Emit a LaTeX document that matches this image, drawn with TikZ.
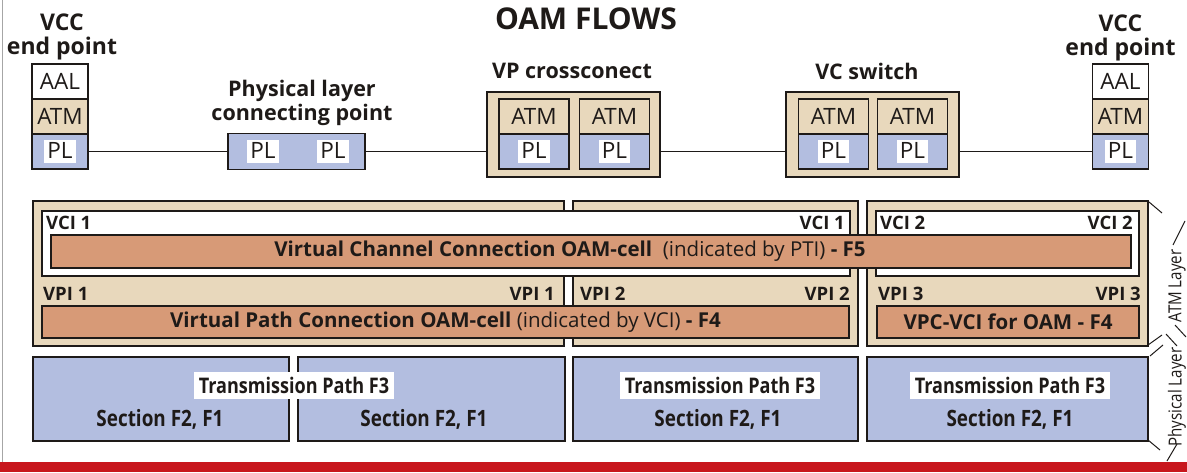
\documentclass[tikz,border=0pt]{standalone}
\usepackage{fontspec}
\setmainfont{Open Sans}
\newfontfamily\condfont[FakeStretch=0.84]{Open Sans}
\usepackage{tikz}
\definecolor{tan}{HTML}{E8D8BC}
\definecolor{plblue}{HTML}{B3BEE0}
\definecolor{cellbar}{HTML}{D79A77}
\definecolor{ink}{HTML}{1E1A18}
\definecolor{band}{HTML}{C8161D}
\newcommand{\fs}[2]{\fontsize{#1}{#2}\selectfont}

\begin{document}
\begin{tikzpicture}[x=1pt, y=-1pt,
    ln/.style={line width=1.9pt, draw=ink},
    cell/.style={ln, minimum width=56pt, minimum height=35pt, inner sep=0pt, outer sep=0pt, text=ink, font=\fs{22.5}{24}},
    aal/.style={cell, fill=white},
    atm/.style={cell, fill=tan},
    wlab/.style={fill=white, inner xsep=3pt, inner ysep=0pt, text height=18pt, text depth=5pt, text=ink, font=\fs{22.5}{24}},
    pl/.style={cell, fill=plblue, label={[wlab]center:PL}},
    hd/.style={font=\bfseries\fs{21.5}{23.5}, text=ink, align=center, inner sep=0pt, anchor=north},
    frame/.style={ln, fill=tan, minimum width=173pt, minimum height=85pt, inner sep=0pt, outer sep=0pt},
    barcell/.style={ln, fill=cellbar, minimum height=32pt, inner sep=0pt, outer sep=0pt, text=ink, font=\bfseries\fs{20.5}{22}},
    tag/.style={font=\bfseries\fs{18.5}{20}, text=ink, inner sep=0pt},
    tp/.style={fill=white, minimum height=27pt, inner xsep=5pt, inner ysep=0pt, text=ink, font=\condfont\bfseries\fs{21.5}{23}},
    sec/.style={text=ink, inner sep=0pt, font=\condfont\bfseries\fs{22.5}{24}},
    side/.style={rotate=90, text=ink, inner sep=0pt, font=\condfont\fs{18}{19}},
    tick/.style={line width=1pt, draw=ink}]
    \useasboundingbox (0,0) rectangle (1187,472);
    \draw [gray!70, line width=1.2pt] (2.5,0) -- (2.5,462);
    \fill [band] (0,462) rectangle (1187,472);

    \node [hd, font=\bfseries\fs{30}{32}] (ttl) at (586,8) {OAM FLOWS};

    \node [hd, font=\bfseries\fs{23}{24}] (lvcct) at (62,14) {VCC\\end point};
    \node [aal] (laal) at (60,81.5) {AAL};
    \node [atm] (latm) at (60,116.5) {ATM};
    \node [pl] (lpl) at (60,151.5) {};

    \node [hd] (pcpt) at (302,80) {Physical layer\\connecting point};
    \node [ln, fill=plblue, minimum width=137pt, minimum height=36pt, outer sep=0pt] (pcp) at (296.5,151.5) {};
    \node [wlab] (pcpl) at (263,151.5) {PL};
    \node [wlab] (pcpr) at (333,151.5) {PL};

    \node [hd] (vpxt) at (572,63) {VP crossconect};
    \node [frame] (vpx) at (573.5,134.5) {};
    \node [atm, minimum width=70pt] (vpa1) at (534,116.5) {ATM};
    \node [pl, minimum width=70pt] (vpp1) at (534,151.5) {};
    \node [atm, minimum width=70pt] (vpa2) at (614.5,116.5) {ATM};
    \node [pl, minimum width=70pt] (vpp2) at (614.5,151.5) {};

    \node [hd] (vcst) at (867,63) {VC switch};
    \node [frame] (vcs) at (872.5,134.5) {};
    \node [atm, minimum width=70pt] (vca1) at (833.5,116.5) {ATM};
    \node [pl, minimum width=70pt] (vcp1) at (833.5,151.5) {};
    \node [atm, minimum width=70pt] (vca2) at (912.5,116.5) {ATM};
    \node [pl, minimum width=70pt] (vcp2) at (912.5,151.5) {};

    \node [hd, font=\bfseries\fs{23}{24}] (rvcct) at (1120.5,15) {VCC\\end point};
    \node [aal] (raal) at (1120.5,81.5) {AAL};
    \node [atm] (ratm) at (1120.5,116.5) {ATM};
    \node [pl] (rpl) at (1120.5,151.5) {};

    \draw [ln, line width=1.8pt] (lpl.east) -- (pcp.west);
    \draw [ln, line width=1.8pt] (pcp.east) -- (pcp.east -| vpx.west);
    \draw [ln, line width=1.8pt] (vpp2.east -| vpx.east) -- (vpp2.east -| vcs.west);
    \draw [ln, line width=1.8pt] (vcs.east |- rpl.west) -- (rpl.west);

    \draw [ln, fill=tan] (33,201) rectangle (564,346);
    \draw [ln, fill=tan] (573,201) rectangle (858,346);
    \draw [ln, fill=tan] (867,201) rectangle (1148,346);
    \draw [ln, fill=white] (42,211) rectangle (850,276);
    \draw [ln, fill=white] (876,211) rectangle (1139,276);
    \draw [ln, fill=cellbar] (51,235) rectangle (1131,268);
    \node [text=ink, inner sep=0pt, font=\bfseries\fs{20.5}{22}] (vcc) at (570,251.5) {Virtual Channel Connection OAM-cell\ \ {\mdseries(indicated by PTI)} - F5};

    \node [tag, anchor=base west] (vci1l) at (46,229) {VCI 1};
    \node [tag, anchor=base east] (vci1r) at (845,229) {VCI 1};
    \node [tag, anchor=base west] (vci2l) at (880,229) {VCI 2};
    \node [tag, anchor=base east] (vci2r) at (1133,229) {VCI 2};
    \node [tag, anchor=base west] (vpi1l) at (43,300) {VPI 1};
    \node [tag, anchor=base east] (vpi1r) at (555,300) {VPI 1};
    \node [tag, anchor=base west] (vpi2l) at (580,300) {VPI 2};
    \node [tag, anchor=base east] (vpi2r) at (850,300) {VPI 2};
    \node [tag, anchor=base west] (vpi3l) at (878,300) {VPI 3};
    \node [tag, anchor=base east] (vpi3r) at (1141,300) {VPI 3};

    \node [barcell, minimum width=807pt] (vpc) at (445.5,322) {Virtual Path Connection OAM-cell {\mdseries(indicated by VCI)} - F4};
    \node [barcell, minimum width=262pt] (vpcv) at (1008,322) {VPC-VCI for OAM - F4};

    \draw [ln, fill=plblue] (33,357) rectangle (289,441);
    \draw [ln, fill=plblue] (298,357) rectangle (565,441);
    \draw [ln, fill=plblue] (573,357) rectangle (858,441);
    \draw [ln, fill=plblue] (867,357) rectangle (1148,441);
    \node [tp] (tp1) at (294,385.5) {Transmission Path F3};
    \node [tp] (tp2) at (720,385.5) {Transmission Path F3};
    \node [tp] (tp3) at (1010,385.5) {Transmission Path F3};
    \node [sec] (sec1) at (160,419) {Section F2, F1};
    \node [sec] (sec2) at (424,419) {Section F2, F1};
    \node [sec] (sec3) at (718,419) {Section F2, F1};
    \node [sec] (sec4) at (1010,419) {Section F2, F1};

    \node [side] (atml) at (1177,286) {ATM Layer};
    \node [side] (phyl) at (1177,397) {Physical Layer};
    \draw [tick] (1149,202) -- (1162,213);
    \draw [tick] (1173,245) -- (1185,221);
    \draw [tick] (1175,325) -- (1186,337);
    \draw [tick] (1166,334) -- (1177,346);
    \draw [tick] (1148,345) -- (1162,335);
    \draw [tick] (1150,356) -- (1163,345);
    \draw [tick] (1148,440) -- (1160,450);
    \draw [tick] (1167,461) -- (1177,444);
\end{tikzpicture}
\end{document}
